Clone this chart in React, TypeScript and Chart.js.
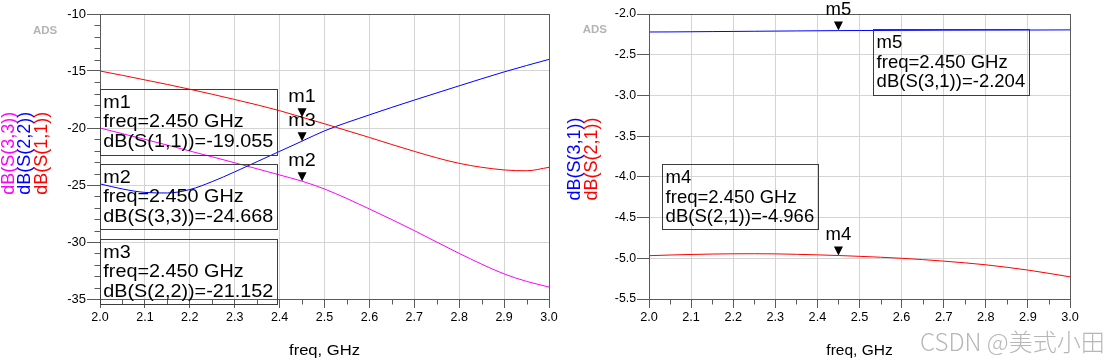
import React, { useEffect, useRef } from 'react';
import { Chart, registerables } from 'chart.js';

Chart.register(...registerables);

// ---------- data ----------
const freq = [2.0, 2.05, 2.1, 2.15, 2.2, 2.25, 2.3, 2.35, 2.4, 2.45, 2.5, 2.6, 2.7, 2.8, 2.9, 2.95, 3.0];
const dbS11 = [-15.0, -15.38, -15.78, -16.18, -16.6, -17.04, -17.5, -17.97, -18.48, -19.055, -19.63, -20.83, -22.05, -23.1, -23.68, -23.75, -23.45];
const dbS22 = [-24.9, -25.35, -25.65, -25.7, -25.4, -24.7, -23.85, -22.95, -22.05, -21.152, -20.25, -18.85, -17.55, -16.3, -15.08, -14.52, -13.98];
const dbS33 = [-20.0, -20.5, -21.0, -21.5, -22.02, -22.53, -23.05, -23.58, -24.12, -24.668, -25.35, -27.1, -29.0, -31.0, -32.8, -33.45, -33.95];
const dbS31 = [-2.221, -2.22, -2.218, -2.216, -2.214, -2.212, -2.21, -2.208, -2.206, -2.204, -2.203, -2.201, -2.199, -2.198, -2.197, -2.196, -2.195];
const dbS21 = [-4.968, -4.96, -4.953, -4.948, -4.945, -4.944, -4.946, -4.951, -4.958, -4.966, -4.976, -5.0, -5.035, -5.08, -5.145, -5.185, -5.228];

const xMin = 2.0;
const xMax = 3.0;
const xStep = 0.1;
const xMinorStep = 0.05;
const leftYMin = -35;
const leftYMax = -10;
const leftYStep = 5;
const leftYMinorStep = 1;
const rightYMin = -5.5;
const rightYMax = -2.0;
const rightYStep = 0.5;

const markerFreq = 2.45;
const leftMarkerNames = ['m1', 'm3', 'm2'];
const leftMarkerValues = [-19.055, -21.152, -24.668];
const leftBoxNames = ['m1', 'm2', 'm3'];
const leftBoxTraces = ['dB(S(1,1))', 'dB(S(3,3))', 'dB(S(2,2))'];
const leftBoxValues = [-19.055, -24.668, -21.152];
const rightMarkerNames = ['m5', 'm4'];
const rightMarkerValues = [-2.204, -4.966];
const rightBoxNames = ['m5', 'm4'];
const rightBoxTraces = ['dB(S(3,1))', 'dB(S(2,1))'];
const rightBoxValues = [-2.204, -4.966];

const leftTitles = ['dB(S(3,3))', 'dB(S(2,2))', 'dB(S(1,1))'];
const rightTitles = ['dB(S(3,1))', 'dB(S(2,1))'];

// ---------- style ----------
const FONT = '"Liberation Sans", Arial, sans-serif';
const RED = '#ff0000';
const BLUE = '#0000ff';
const MAGENTA = '#ff00ff';
const GRID = 'rgb(212,212,212)';
const FRAME = '#5a5a5a';
const BOXLINE = '#3c3c3c';

type Side = {
  sx: number;
  titleColors: string[];
  titleX: number[];
  titleCY: number;
  adsX: number;
  adsY: number;
  yMinorStep: number | null;
  markerNames: string[];
  markerValues: number[];
  boxNames: string[];
  boxTraces: string[];
  boxValues: number[];
  boxes: { x: number; y: number; w: number; h: number }[];
  titles: string[];
  watermark: boolean;
};

function drawText(ctx: CanvasRenderingContext2D, text: string, x: number, y: number, sx: number, align: CanvasTextAlign) {
  ctx.save();
  ctx.translate(x, y);
  ctx.scale(sx, 1);
  ctx.textAlign = align;
  ctx.fillText(text, 0, 0);
  ctx.restore();
}

function overlay(side: Side) {
  return {
    id: 'adsOverlay',
    afterDraw(chart: any) {
      const ctx: CanvasRenderingContext2D = chart.ctx;
      const ca = chart.chartArea;
      const xs = chart.scales.x;
      const ys = chart.scales.y;
      ctx.save();
      // frame
      ctx.strokeStyle = FRAME;
      ctx.lineWidth = 1;
      const L = Math.round(ca.left) + 0.5, R = Math.round(ca.right) + 0.5;
      const T = Math.round(ca.top) + 0.5, B = Math.round(ca.bottom) + 0.5;
      ctx.strokeRect(L, T, R - L, B - T);
      // minor ticks
      ctx.beginPath();
      const nx = Math.round((xMax - xMin) / xMinorStep);
      for (let i = 0; i <= nx; i++) {
        if (i % 2 === 0) continue;
        const px = Math.round(xs.getPixelForValue(xMin + i * xMinorStep)) + 0.5;
        ctx.moveTo(px, B);
        ctx.lineTo(px, B + 5);
      }
      if (side.yMinorStep) {
        const ymin = ys.min, ymax = ys.max;
        const ny = Math.round((ymax - ymin) / side.yMinorStep);
        for (let i = 0; i <= ny; i++) {
          const v = ymin + i * side.yMinorStep;
          if (Math.abs(v % 5) < 1e-6) continue;
          const py = Math.round(ys.getPixelForValue(v)) + 0.5;
          ctx.moveTo(L, py);
          ctx.lineTo(L - 6, py);
        }
      }
      ctx.stroke();

      // rotated y titles
      ctx.font = `18px ${FONT}`;
      ctx.textBaseline = 'middle';
      side.titles.forEach((t, i) => {
        ctx.save();
        ctx.translate(side.titleX[i], side.titleCY);
        ctx.rotate(-Math.PI / 2);
        ctx.fillStyle = side.titleColors[i];
        ctx.textAlign = 'center';
        ctx.fillText(t, 0, 0);
        ctx.restore();
      });

      // ADS label
      ctx.font = `bold 11.5px ${FONT}`;
      ctx.fillStyle = '#b4b4b4';
      ctx.textAlign = 'left';
      ctx.fillText('ADS', side.adsX, side.adsY);

      // x title
      ctx.font = `15.5px ${FONT}`;
      ctx.fillStyle = '#000';
      ctx.textBaseline = 'middle';
      drawText(ctx, 'freq, GHz', (ca.left + ca.right) / 2, 351, side.sx, 'center');

      // markers
      ctx.textBaseline = 'alphabetic';
      ctx.font = `18.5px ${FONT}`;
      side.markerNames.forEach((n, i) => {
        const px = xs.getPixelForValue(markerFreq);
        const py = ys.getPixelForValue(side.markerValues[i]);
        ctx.fillStyle = '#000';
        ctx.beginPath();
        ctx.moveTo(px - 4.5, py - 9);
        ctx.lineTo(px + 4.5, py - 9);
        ctx.lineTo(px, py);
        ctx.closePath();
        ctx.fill();
        drawText(ctx, n, px, py - 15.5, side.sx, 'center');
      });

      // readout boxes
      side.boxes.forEach((b, i) => {
        ctx.strokeStyle = BOXLINE;
        ctx.lineWidth = 1;
        ctx.strokeRect(Math.round(ca.left + b.x) + 0.5, Math.round(b.y) + 0.5, b.w, b.h);
        ctx.fillStyle = '#000';
        const lines = [
          side.boxNames[i],
          `freq=${markerFreq.toFixed(3)} GHz`,
          `${side.boxTraces[i]}=${side.boxValues[i].toFixed(3)}`,
        ];
        lines.forEach((s, j) => {
          drawText(ctx, s, ca.left + b.x + 3.3, b.y + 18.5 + j * 19.7, side.sx, 'left');
        });
      });

      if (side.watermark) {
        ctx.font = `300 24px "Noto Sans CJK SC", ${FONT}`;
        ctx.fillStyle = 'rgba(165,165,165,0.8)';
        ctx.textAlign = 'left';
        ctx.textBaseline = 'alphabetic';
        ctx.fillText('CSDN @美式小田', 360, 351);
      }
      ctx.restore();
    },
  };
}

function makeConfig(
  series: { data: number[]; color: string }[],
  yMin: number, yMax: number, yStep: number,
  yAxisWidth: number, padRight: number,
  yFont: number, xFont: number, yTickLen: number,
  yFmt: (v: number) => string,
  side: Side
): any {
  return {
    type: 'line',
    data: {
      datasets: series.map((s) => ({
        data: freq.map((f, i) => ({ x: f, y: s.data[i] })),
        borderColor: s.color,
        borderWidth: 1,
        pointRadius: 0,
        fill: false,
        cubicInterpolationMode: 'monotone',
      })),
    },
    options: {
      responsive: false,
      animation: false,
      devicePixelRatio: 1,
      layout: { padding: { left: 0, right: padRight, top: 14, bottom: 0 } },
      plugins: { legend: { display: false }, tooltip: { enabled: false } },
      events: [],
      scales: {
        x: {
          type: 'linear',
          min: xMin,
          max: xMax,
          ticks: {
            stepSize: xStep,
            autoSkip: false,
            maxRotation: 0,
            color: '#000',
            padding: 2,
            font: { family: FONT, size: xFont },
            callback: (v: number) => Number(v).toFixed(1),
          },
          grid: { color: GRID, lineWidth: 1, tickLength: 9, tickColor: FRAME, drawTicks: true },
          border: { display: true, color: FRAME, width: 1 },
          afterFit: (s: any) => { s.height = 64; },
        },
        y: {
          type: 'linear',
          min: yMin,
          max: yMax,
          ticks: {
            stepSize: yStep,
            autoSkip: false,
            color: '#000',
            padding: 1,
            font: { family: FONT, size: yFont },
            callback: (v: number) => yFmt(Number(v)),
          },
          grid: { color: GRID, lineWidth: 1, tickLength: yTickLen, tickColor: FRAME, drawTicks: true },
          border: { display: true, color: FRAME, width: 1 },
          afterFit: (s: any) => { s.width = yAxisWidth; },
        },
      },
    },
    plugins: [overlay(side)],
  };
}

export default function App() {
  const leftRef = useRef<HTMLCanvasElement>(null);
  const rightRef = useRef<HTMLCanvasElement>(null);

  useEffect(() => {
    const leftSide: Side = {
      sx: 1.07,
      titleColors: [MAGENTA, BLUE, RED],
      titleX: [9.3, 25.3, 41.7],
      titleCY: 153.3,
      adsX: 33,
      adsY: 31,
      yMinorStep: leftYMinorStep,
      markerNames: leftMarkerNames,
      markerValues: leftMarkerValues,
      boxNames: leftBoxNames,
      boxTraces: leftBoxTraces,
      boxValues: leftBoxValues,
      boxes: [
        { x: 0, y: 89, w: 177, h: 66 },
        { x: 0, y: 164, w: 177, h: 65 },
        { x: 0, y: 239, w: 177, h: 65 },
      ],
      titles: leftTitles,
      watermark: false,
    };
    const rightSide: Side = {
      sx: 1.0,
      titleColors: [BLUE, RED],
      titleX: [15, 31.7],
      titleCY: 159,
      adsX: 22.7,
      adsY: 30,
      yMinorStep: null,
      markerNames: rightMarkerNames,
      markerValues: rightMarkerValues,
      boxNames: rightBoxNames,
      boxTraces: rightBoxTraces,
      boxValues: rightBoxValues,
      boxes: [
        { x: 224.3, y: 29.3, w: 156, h: 66 },
        { x: 13.3, y: 164.3, w: 156, h: 65 },
      ],
      titles: rightTitles,
      watermark: true,
    };
    const left = new Chart(
      leftRef.current!,
      makeConfig(
        [{ data: dbS11, color: RED }, { data: dbS22, color: BLUE }, { data: dbS33, color: MAGENTA }],
        leftYMin, leftYMax, leftYStep, 100, 11, 13, 12.5, 13,
        (v) => String(Math.round(v)),
        leftSide
      )
    );
    const right = new Chart(
      rightRef.current!,
      makeConfig(
        [{ data: dbS31, color: BLUE }, { data: dbS21, color: RED }],
        rightYMin, rightYMax, rightYStep, 89, 47, 12.3, 12.7, 12,
        (v) => v.toFixed(1),
        rightSide
      )
    );
    return () => {
      left.destroy();
      right.destroy();
    };
  }, []);

  return (
    <div style={{ position: 'absolute', left: 0, top: 0, width: 1117, height: 363, background: '#fff', overflow: 'hidden' }}>
      <canvas ref={leftRef} width={560} height={363} style={{ position: 'absolute', left: 0, top: 0, width: 560, height: 363 }} />
      <canvas ref={rightRef} width={557} height={363} style={{ position: 'absolute', left: 560, top: 0, width: 557, height: 363 }} />
    </div>
  );
}
